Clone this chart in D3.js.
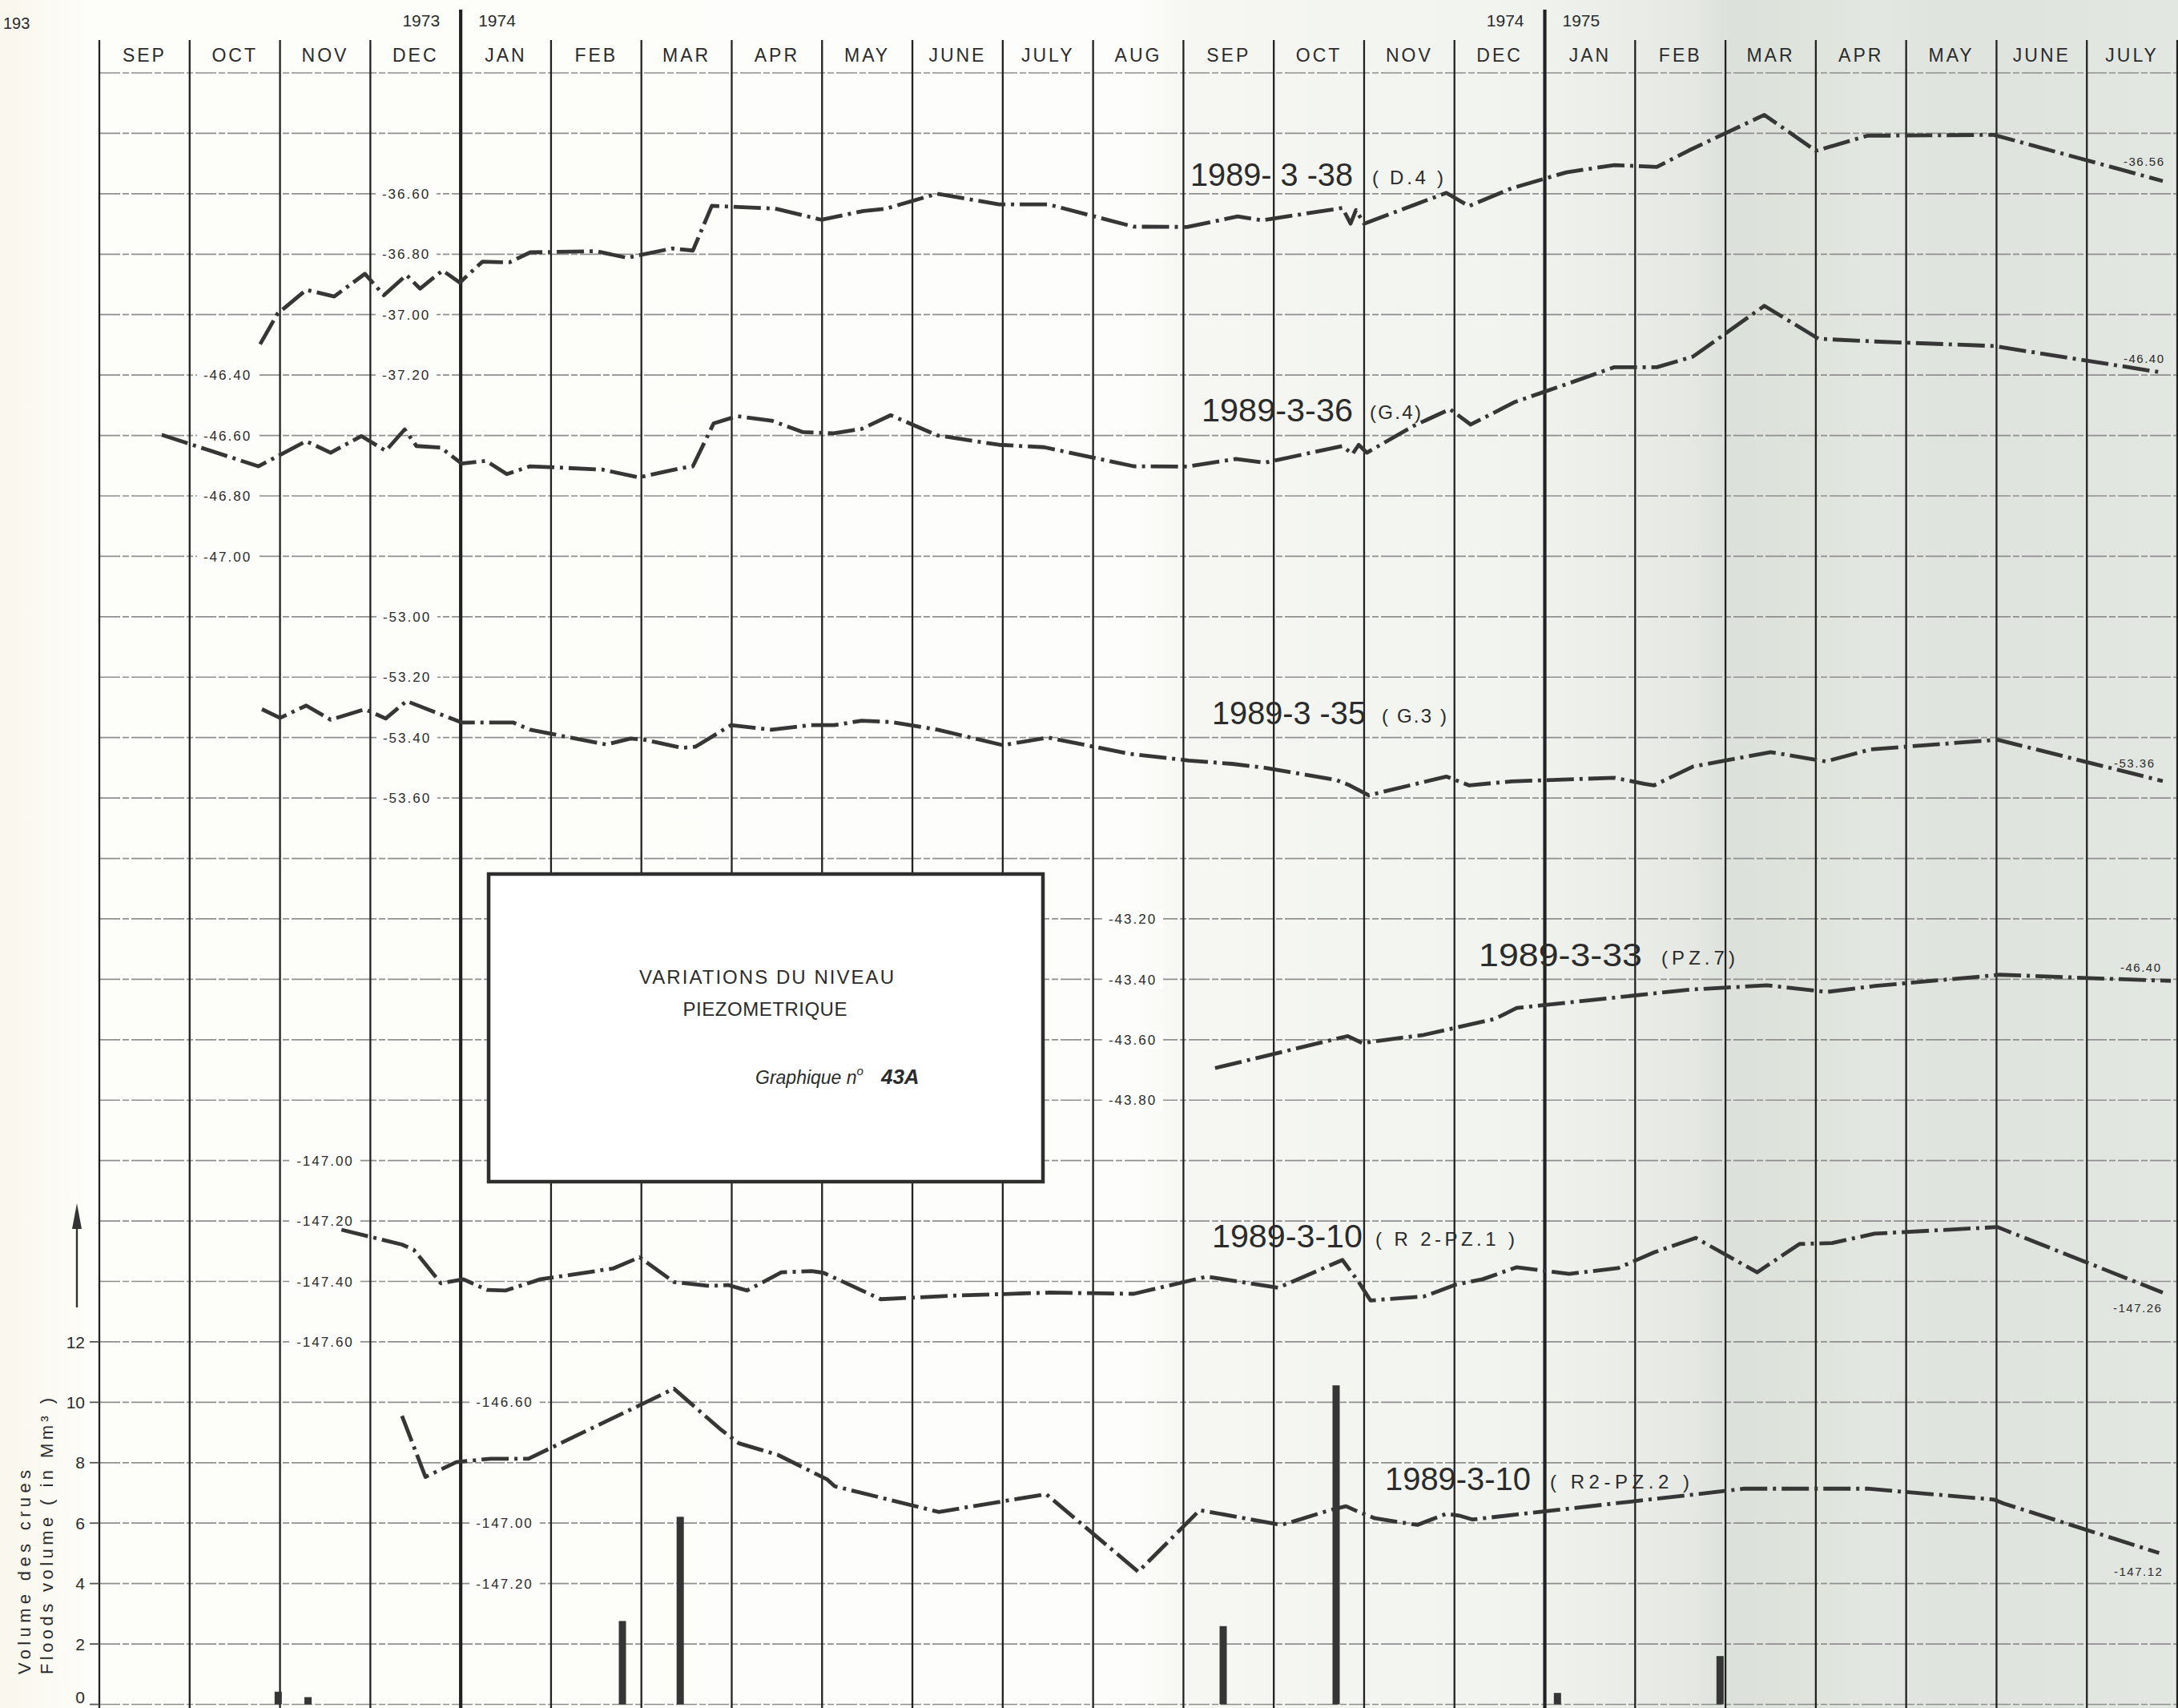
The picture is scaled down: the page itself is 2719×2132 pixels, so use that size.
<!DOCTYPE html>
<html><head><meta charset="utf-8">
<script src="https://cdn.jsdelivr.net/npm/d3@7"></script>
<style>
html,body{margin:0;padding:0;background:#fff;}
svg{display:block;}
text{font-family:"Liberation Sans", Arial, sans-serif; fill:#2b2b2b;}
</style></head><body>
<svg id="chart" width="2719" height="2132"></svg>
<script>
// ---------------- DATA ----------------
const months = ["SEP","OCT","NOV","DEC","JAN","FEB","MAR","APR","MAY","JUNE","JULY","AUG",
                "SEP","OCT","NOV","DEC","JAN","FEB","MAR","APR","MAY","JUNE","JULY"];
const yearMarks = [{at:4, before:"1973", after:"1974"}, {at:16, before:"1974", after:"1975"}];
const floodTicks = [0,2,4,6,8,10,12];
// [month position (0 = start of Sep 1973), flood volume Mm3]
const floodVolumes = [[1.98,0.42],[2.31,0.24],[5.79,2.76],[6.43,6.21],[12.44,2.59],[13.69,10.56],[16.14,0.38],[17.94,1.60]];

const ticks38 = [-36.60,-36.80,-37.00,-37.20];
const ticks36 = [-46.40,-46.60,-46.80,-47.00];
const ticks35 = [-53.00,-53.20,-53.40,-53.60];
const ticks33 = [-43.20,-43.40,-43.60,-43.80];
const ticksPz1 = [-147.00,-147.20,-147.40,-147.60];
const ticksPz2 = [-146.60,-147.00,-147.20];

const wellIds   = ["1989- 3 -38","1989-3-36","1989-3 -35","1989-3-33","1989-3-10","1989-3-10"];
const wellCodes = ["( D.4 )","(G.4)","( G.3 )","(PZ.7)","( R 2-PZ.1 )","( R2-PZ.2 )"];
const endLabels = ["-36.56","-46.40","-53.36","-46.40","-147.26","-147.12"];

// [month position, piezometric level]
const s38 = [[1.78,-37.098],[1.97,-36.998],[2.29,-36.918],[2.60,-36.940],[2.94,-36.865],[3.15,-36.936],[3.40,-36.869],[3.55,-36.914],[3.80,-36.854],[3.99,-36.894],[4.24,-36.825],[4.54,-36.827],[4.77,-36.794],[5.50,-36.790],[5.84,-36.812],[6.34,-36.781],[6.57,-36.788],[6.78,-36.640],[7.48,-36.649],[7.99,-36.686],[8.46,-36.657],[8.70,-36.650],[9.27,-36.600],[9.96,-36.635],[10.50,-36.635],[11.45,-36.709],[12.04,-36.710],[12.60,-36.675],[12.87,-36.688],[13.76,-36.647],[13.85,-36.699],[13.91,-36.654],[14.00,-36.699],[14.91,-36.597],[15.16,-36.641],[15.63,-36.582],[16.24,-36.529],[16.77,-36.505],[17.24,-36.511],[17.60,-36.456],[18.43,-36.339],[19.00,-36.458],[19.57,-36.408],[20.97,-36.405],[22.84,-36.558]];
const s36 = [[0.69,-46.598],[1.76,-46.702],[2.29,-46.619],[2.56,-46.657],[2.90,-46.602],[3.17,-46.651],[3.38,-46.580],[3.51,-46.635],[3.78,-46.640],[4.01,-46.693],[4.28,-46.684],[4.51,-46.728],[4.77,-46.702],[5.57,-46.713],[5.97,-46.739],[6.41,-46.710],[6.57,-46.702],[6.80,-46.560],[7.06,-46.536],[7.44,-46.551],[7.79,-46.589],[8.13,-46.593],[8.44,-46.578],[8.76,-46.533],[9.28,-46.600],[9.96,-46.631],[10.46,-46.639],[11.45,-46.702],[12.04,-46.703],[12.58,-46.678],[12.90,-46.690],[13.76,-46.635],[13.87,-46.662],[13.94,-46.631],[14.03,-46.657],[14.55,-46.568],[14.95,-46.513],[15.18,-46.564],[15.67,-46.489],[16.27,-46.427],[16.77,-46.374],[17.24,-46.374],[17.64,-46.339],[18.43,-46.171],[19.03,-46.280],[19.65,-46.289],[20.97,-46.304],[22.84,-46.392]];
const s35 = [[1.80,-53.306],[2.00,-53.335],[2.29,-53.294],[2.56,-53.341],[2.94,-53.306],[3.17,-53.337],[3.40,-53.279],[3.74,-53.319],[4.01,-53.350],[4.58,-53.350],[4.77,-53.374],[5.61,-53.423],[5.88,-53.403],[6.03,-53.407],[6.45,-53.434],[6.60,-53.430],[6.99,-53.359],[7.44,-53.374],[7.86,-53.359],[8.13,-53.359],[8.44,-53.344],[8.78,-53.349],[9.28,-53.374],[10.00,-53.425],[10.50,-53.400],[11.41,-53.454],[12.06,-53.476],[12.54,-53.487],[12.90,-53.500],[13.69,-53.540],[13.84,-53.558],[14.05,-53.591],[14.91,-53.529],[15.16,-53.558],[15.63,-53.545],[16.77,-53.533],[17.10,-53.553],[17.21,-53.558],[17.64,-53.496],[18.50,-53.448],[19.11,-53.479],[19.61,-53.439],[21.01,-53.407],[22.84,-53.544]];
const s33 = [[12.35,-43.694],[13.82,-43.588],[13.98,-43.611],[14.66,-43.584],[15.45,-43.531],[15.69,-43.495],[17.61,-43.434],[18.46,-43.420],[19.12,-43.442],[19.66,-43.422],[21.04,-43.385],[22.67,-43.403],[22.93,-43.405]];
const pz1 = [[2.68,-147.229],[3.35,-147.278],[3.48,-147.295],[3.78,-147.406],[4.03,-147.393],[4.29,-147.428],[4.50,-147.430],[4.88,-147.393],[5.69,-147.357],[5.98,-147.320],[6.36,-147.402],[6.75,-147.415],[6.96,-147.412],[7.17,-147.430],[7.55,-147.370],[7.89,-147.366],[8.02,-147.372],[8.65,-147.459],[9.46,-147.447],[10.52,-147.437],[11.45,-147.441],[12.26,-147.384],[13.05,-147.421],[13.76,-147.329],[13.94,-147.402],[14.07,-147.463],[14.66,-147.450],[15.02,-147.410],[15.31,-147.393],[15.69,-147.353],[16.27,-147.375],[16.81,-147.356],[17.21,-147.304],[17.67,-147.256],[18.35,-147.370],[18.82,-147.276],[19.18,-147.273],[19.65,-147.242],[21.01,-147.220],[22.84,-147.437]];
const pz2 = [[3.35,-146.645],[3.61,-146.847],[3.95,-146.798],[4.33,-146.787],[4.75,-146.787],[6.36,-146.555],[6.87,-146.688],[7.08,-146.736],[7.51,-146.774],[8.06,-146.856],[8.14,-146.878],[9.29,-146.963],[10.48,-146.904],[11.50,-147.161],[12.18,-146.957],[13.08,-147.006],[13.19,-146.997],[13.62,-146.957],[13.80,-146.944],[13.94,-146.963],[14.12,-146.984],[14.59,-147.006],[14.91,-146.969],[15.05,-146.975],[15.20,-146.988],[18.07,-146.891],[18.21,-146.886],[19.57,-146.886],[20.97,-146.922],[21.08,-146.935],[22.80,-147.099]];

// ---------------- LAYOUT ----------------
const W = 2719, H = 2132;
const svg = d3.select("#chart");
const fmt = d3.formatLocale({decimal:".", thousands:",", grouping:[3], currency:["",""], minus:"-"}).format(".2f");

const x = d3.scaleLinear().domain([0, 23]).range([124, 2718]);
const grid = d3.scaleLinear().domain([-2, 25]).range([91, 2127.5]);
const flood = d3.scaleLinear().domain([0, 12]).range([grid(25), grid(19)]);

// paper background (scan shading)
const defs = svg.append("defs");
const grad = defs.append("linearGradient").attr("id","paper")
  .attr("x1",0).attr("x2",1).attr("y1",0).attr("y2",0);
[[0,"#f9f7ec"],[0.04,"#fdfdf9"],[0.52,"#fdfdfb"],[0.545,"#f6f7f2"],[0.70,"#f1f3ee"],
 [0.775,"#e6e9e3"],[0.795,"#dce1db"],[0.83,"#dee3dc"],[0.86,"#e3e7e1"],[0.90,"#dee3dd"],[1,"#e3e7e2"]]
 .forEach(s => grad.append("stop").attr("offset", s[0]).attr("stop-color", s[1]));
svg.append("rect").attr("width",W).attr("height",H).attr("fill","url(#paper)");

// horizontal grid
const rows = d3.range(-2, 26);
svg.append("g").selectAll("line").data(rows).join("line")
  .attr("x1", x(0)).attr("x2", W)
  .attr("y1", d => grid(d)).attr("y2", d => grid(d))
  .attr("stroke", "#8f8f8f").attr("stroke-width", 1.7).attr("stroke-dasharray", "26 3 8 3");

// vertical month lines
const cols = d3.range(0, 24);
svg.append("g").selectAll("line").data(cols).join("line")
  .attr("x1", d => x(d)).attr("x2", d => x(d))
  .attr("y1", d => (d === 4 || d === 16) ? 12 : 50).attr("y2", H)
  .attr("stroke", "#222").attr("stroke-width", d => (d === 4 || d === 16) ? 4.2 : 2.3);

// month labels
svg.append("g").selectAll("text").data(months).join("text")
  .attr("x", (d,i) => x(i + 0.5)).attr("y", 77)
  .attr("text-anchor","middle").attr("font-size", 23).attr("letter-spacing", 3)
  .text(d => d);

// year labels
yearMarks.forEach(m => {
  svg.append("text").attr("x", x(m.at) - 26).attr("y", 33).attr("text-anchor","end")
    .attr("font-size", 21).text(m.before);
  svg.append("text").attr("x", x(m.at) + 22).attr("y", 33).attr("text-anchor","start")
    .attr("font-size", 21).text(m.after);
});
svg.append("text").attr("x", 4).attr("y", 36).attr("font-size", 20).text("193");

// flood axis
const fAxis = svg.append("g");
fAxis.selectAll("line").data(floodTicks).join("line")
  .attr("x1", 112).attr("x2", x(0)).attr("y1", d => flood(d)).attr("y2", d => flood(d))
  .attr("stroke", "#555").attr("stroke-width", 1.8);
fAxis.selectAll("text").data(floodTicks).join("text")
  .attr("x", 106).attr("y", d => Math.min(flood(d), 2118)).attr("dy", "0.36em")
  .attr("text-anchor","end").attr("font-size", 21).text(d => d);
svg.append("line").attr("x1",96).attr("x2",96).attr("y1",1632).attr("y2",1530)
  .attr("stroke","#333").attr("stroke-width",2.4);
svg.append("path").attr("d","M90,1534 L102,1534 L96,1502 Z").attr("fill","#333");
svg.append("text").attr("transform","translate(38,2090) rotate(-90)")
  .attr("font-size", 22).attr("textLength", 255).attr("lengthAdjust","spacing")
  .text("Volume des crues");
svg.append("text").attr("transform","translate(66,2090) rotate(-90)")
  .attr("font-size", 22).attr("textLength", 345).attr("lengthAdjust","spacing")
  .text("Floods volume ( in Mm³ )");

// flood bars
svg.append("g").selectAll("rect").data(floodVolumes).join("rect")
  .attr("x", d => x(d[0]) - 4.5).attr("width", 9)
  .attr("y", d => flood(d[1])).attr("height", d => flood(0) - flood(d[1]))
  .attr("fill", "#353535");

// wells
const wells = [
  {data:s38, ticks:ticks38, g0:0,  tickX:507,  id:[1486,232,203], code:[1713,230,89],  end:[2651,207]},
  {data:s36, ticks:ticks36, g0:3,  tickX:284,  id:[1500,526,189], code:[1710,523,64],  end:[2651,453]},
  {data:s35, ticks:ticks35, g0:7,  tickX:508,  id:[1513,904,192], code:[1725,902,81],  end:[2639,958]},
  {data:s33, ticks:ticks33, g0:12, tickX:1414, id:[1846,1206,204],code:[2074,1204,92], end:[2647,1213]},
  {data:pz1, ticks:ticksPz1,g0:16, tickX:406,  id:[1513,1557,188],code:[1717,1555,174],end:[2638,1638]},
  {data:pz2, ticks:ticksPz2,g0:20, tickX:630,  id:[1729,1860,182],code:[1935,1858,174],end:[2639,1967]}
];

const tickLayer = svg.append("g");
const lineLayer = svg.append("g");
const textLayer = svg.append("g");

wells.forEach((w, wi) => {
  const y = d3.scaleLinear().domain([w.ticks[0], w.ticks[0] - 0.2]).range([grid(w.g0), grid(w.g0 + 1)]);
  w.ticks.forEach(t => {
    const g = tickLayer.append("g");
    const r = g.append("rect").attr("fill", "#fdfdfb");
    const tx = g.append("text").attr("x", w.tickX).attr("y", y(t)).attr("dy","0.36em")
      .attr("text-anchor","middle").attr("font-size", 17).attr("letter-spacing", 2)
      .text(fmt(t));
    const b = tx.node().getBBox();
    r.attr("x", b.x - 8).attr("y", b.y - 2).attr("width", b.width + 16).attr("height", b.height + 4);
  });
  const line = d3.line().x(d => x(d[0])).y(d => y(d[1]));
  lineLayer.append("path").datum(w.data).attr("d", line)
    .attr("fill","none").attr("stroke","#363636").attr("stroke-width",4.8)
    .attr("stroke-linejoin","round").attr("stroke-dasharray","34 7 4 7");
  textLayer.append("text").attr("x", w.id[0]).attr("y", w.id[1])
    .attr("font-size", 40).attr("textLength", w.id[2]).attr("lengthAdjust","spacingAndGlyphs")
    .text(wellIds[wi]);
  textLayer.append("text").attr("x", w.code[0]).attr("y", w.code[1])
    .attr("font-size", 24).attr("textLength", w.code[2]).attr("lengthAdjust","spacing")
    .text(wellCodes[wi]);
  textLayer.append("text").attr("x", w.end[0]).attr("y", w.end[1])
    .attr("font-size", 15).attr("letter-spacing", 1.5).text(endLabels[wi]);
});

// title box
const box = svg.append("g");
box.append("rect").attr("x",610).attr("y",1091).attr("width",692).attr("height",384)
  .attr("fill","#ffffff").attr("stroke","#2e2e2e").attr("stroke-width",4.5);
box.append("text").attr("x",957).attr("y",1228).attr("text-anchor","middle")
  .attr("font-size",24).attr("textLength",318).attr("lengthAdjust","spacing")
  .text("VARIATIONS DU NIVEAU");
box.append("text").attr("x",955).attr("y",1268).attr("text-anchor","middle")
  .attr("font-size",24).attr("textLength",205).attr("lengthAdjust","spacing")
  .text("PIEZOMETRIQUE");
const gt = box.append("text").attr("x",943).attr("y",1353).attr("font-size",23).attr("font-style","italic");
gt.append("tspan").text("Graphique n");
gt.append("tspan").attr("font-size",15).attr("dy",-11).text("o");
gt.append("tspan").attr("dy",11).attr("dx",22).attr("font-size",26).attr("font-weight","bold").text("43A");
</script>
</body></html>
